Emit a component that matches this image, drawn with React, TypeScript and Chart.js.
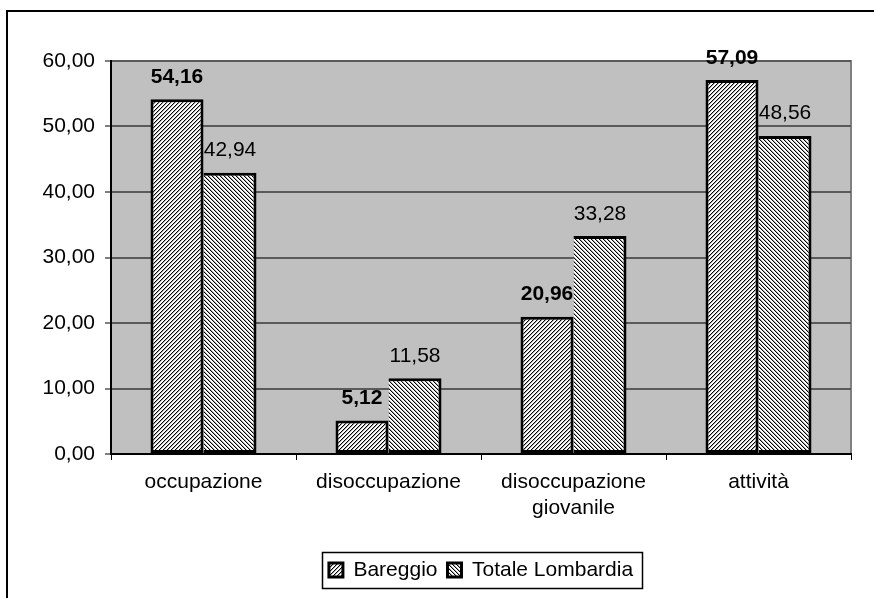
import React, { useEffect, useRef } from 'react';
import { Chart, registerables } from 'chart.js';

Chart.register(...registerables);

const categories: (string | string[])[] = ['occupazione', 'disoccupazione', ['disoccupazione', 'giovanile'], 'attività'];
const bareggio = [54.16, 5.12, 20.96, 57.09];
const lombardia = [42.94, 11.58, 33.28, 48.56];
const seriesNames = ['Bareggio', 'Totale Lombardia'];
const yMin = 0;
const yMax = 60;
const yStep = 10;

const FAMILY = '"Liberation Sans", Arial, sans-serif';
const fmt = (v: number) => Number(v).toFixed(2).replace('.', ',');

function makePattern(ctx: CanvasRenderingContext2D, dir: 1 | -1): CanvasPattern {
  const c = document.createElement('canvas');
  c.width = 4;
  c.height = 4;
  const g = c.getContext('2d')!;
  g.fillStyle = '#fff';
  g.fillRect(0, 0, 4, 4);
  for (let x = 0; x < 4; x++) {
    for (let y = 0; y < 4; y++) {
      const k = dir === 1 ? (x + y) % 4 : (x - y + 4) % 4;
      if (k === 0) {
        g.fillStyle = '#000';
        g.fillRect(x, y, 1, 1);
      } else if (k === 1) {
        g.fillStyle = '#aaa';
        g.fillRect(x, y, 1, 1);
      }
    }
  }
  return ctx.createPattern(c, 'repeat')!;
}

const backgroundPlugin = {
  id: 'bgFrame',
  beforeDraw(chart: any) {
    const { ctx, chartArea: a, width, height } = chart;
    ctx.save();
    ctx.fillStyle = '#fff';
    ctx.fillRect(0, 0, width, height);
    ctx.strokeStyle = '#000';
    ctx.lineWidth = 2;
    ctx.strokeRect(7, 11, width - 14, height + 40);
    ctx.fillStyle = '#c0c0c0';
    ctx.fillRect(a.left, a.top, a.right - a.left, a.bottom - a.top);
    ctx.strokeStyle = '#808080';
    ctx.lineWidth = 2;
    ctx.strokeRect(a.left, a.top, a.right - a.left, a.bottom - a.top);
    ctx.restore();
  },
};

const labelsPlugin = {
  id: 'valueLabels',
  afterDatasetsDraw(chart: any) {
    const { ctx } = chart;
    ctx.save();
    ctx.fillStyle = '#000';
    ctx.textAlign = 'center';
    ctx.textBaseline = 'alphabetic';
    chart.data.datasets.forEach((ds: any, i: number) => {
      const meta = chart.getDatasetMeta(i);
      ctx.font = (i === 0 ? 'bold ' : '') + '21px ' + FAMILY;
      meta.data.forEach((el: any, j: number) => {
        ctx.fillText(fmt(ds.data[j]), el.x, el.y - 16.5);
      });
    });
    ctx.restore();
  },
};

const legendBoxPlugin = {
  id: 'legendBox',
  afterDraw(chart: any) {
    const lg = chart.legend;
    if (!lg || !lg.legendHitBoxes || !lg.legendHitBoxes.length) return;
    const hb = lg.legendHitBoxes;
    const first = hb[0];
    const last = hb[hb.length - 1];
    const l = first.left - 7;
    const r = last.left + last.width + 9;
    const cy = first.top + first.height / 2;
    const { ctx } = chart;
    ctx.save();
    ctx.strokeStyle = '#000';
    ctx.lineWidth = 1.5;
    ctx.strokeRect(Math.round(l) + 0.5, Math.round(cy - 18) + 0.5, Math.round(r - l), 36);
    ctx.restore();
  },
};

export default function App() {
  const canvasRef = useRef<HTMLCanvasElement | null>(null);

  useEffect(() => {
    const canvas = canvasRef.current!;
    const ctx = canvas.getContext('2d')!;
    const patA = makePattern(ctx, 1);
    const patB = makePattern(ctx, -1);

    const chart = new Chart(canvas, {
      type: 'bar',
      data: {
        labels: categories as any,
        datasets: [
          {
            label: seriesNames[0],
            data: bareggio,
            backgroundColor: patA,
            borderColor: '#000',
            borderWidth: 3,
            borderSkipped: false,
            categoryPercentage: 0.573,
            barPercentage: 1,
          },
          {
            label: seriesNames[1],
            data: lombardia,
            backgroundColor: patB,
            borderColor: '#000',
            borderWidth: 3,
            borderSkipped: 'left',
            categoryPercentage: 0.573,
            barPercentage: 1,
          },
        ],
      },
      options: {
        animation: false,
        responsive: false,
        devicePixelRatio: 1,
        layout: { padding: { top: 61, bottom: 7.5, left: 0, right: 0 } },
        plugins: {
          legend: {
            position: 'bottom',
            labels: {
              font: { family: FAMILY, size: 21 },
              color: '#000',
              boxWidth: 14,
              boxHeight: 14,
              padding: 10,
            },
          },
          tooltip: { enabled: false },
        },
        scales: {
          x: {
            grid: {
              display: true,
              drawOnChartArea: false,
              drawTicks: true,
              tickLength: 6,
              color: '#000',
              lineWidth: 1,
              offset: true,
            },
            border: { display: true, color: '#000', width: 2 },
            ticks: {
              font: { family: FAMILY, size: 21 },
              color: '#000',
              padding: 10,
              maxRotation: 0,
              autoSkip: false,
            },
            afterFit: (s: any) => {
              s.height = 95.5;
            },
          },
          y: {
            min: yMin,
            max: yMax,
            ticks: {
              stepSize: yStep,
              callback: (v: any) => fmt(v),
              font: { family: FAMILY, size: 21 },
              color: '#000',
              padding: 10,
            },
            grid: {
              color: (c: any) => (c.tick && c.tick.value === 0 ? 'rgba(0,0,0,0)' : '#5a5a5a'),
              lineWidth: 2,
              tickLength: 6,
              tickColor: '#000',
              tickWidth: 1,
            },
            border: { display: true, color: '#000', width: 2 },
            afterFit: (s: any) => {
              s.width = 111;
            },
          },
          yR: {
            type: 'linear',
            position: 'right',
            display: true,
            grid: { display: false, drawTicks: false },
            ticks: { display: false },
            border: { display: false },
            afterFit: (s: any) => {
              s.width = 111;
            },
          },
        },
      } as any,
      plugins: [backgroundPlugin, labelsPlugin, legendBoxPlugin],
    });
    return () => chart.destroy();
  }, []);

  return (
    <div style={{ position: 'fixed', left: 0, top: 0, width: 874, height: 598, overflow: 'hidden', background: '#fff' }}>
      <canvas ref={canvasRef} width={962} height={598} style={{ display: 'block', width: 962, height: 598 }} />
    </div>
  );
}
